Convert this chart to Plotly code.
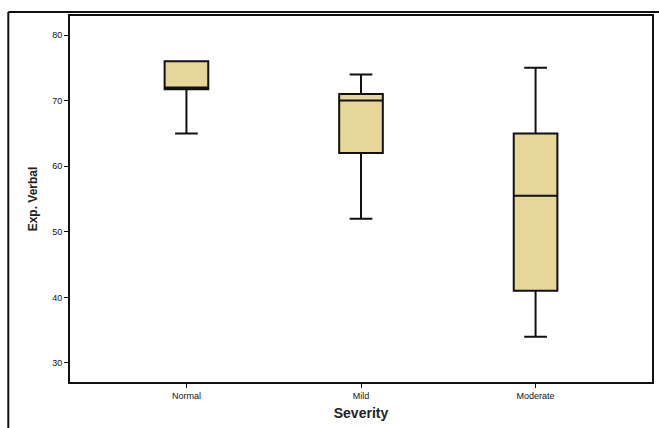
import plotly.graph_objects as go

categories = ["Normal", "Mild", "Moderate"]
lower_fence = [65, 52, 34]
q1_vals = [71.75, 62, 41]
medians = [72, 70, 55.5]
q3_vals = [76, 71, 65]
upper_fence = [76, 74, 75]
y_ticks = [30, 40, 50, 60, 70, 80]

fig = go.Figure()
fig.add_trace(go.Box(
    x=categories,
    q1=q1_vals,
    median=medians,
    q3=q3_vals,
    lowerfence=lower_fence,
    upperfence=upper_fence,
    width=0.25,
    whiskerwidth=0.52,
    fillcolor="#E6D69A",
    line=dict(color="#111111", width=2),
    boxpoints=False,
    showlegend=False,
    hoverinfo="skip",
))

fig.update_layout(
    width=659, height=428,
    margin=dict(l=70, r=5, t=16, b=46),
    paper_bgcolor="white", plot_bgcolor="white",
    font=dict(family="Arial, Liberation Sans, sans-serif", color="#111111"),
    shapes=[
        dict(type="line", xref="paper", yref="paper", x0=-0.106, x1=-0.106, y0=-0.2, y1=1.011,
             line=dict(color="#111111", width=2)),
        dict(type="line", xref="paper", yref="paper", x0=-0.106, x1=1.1, y0=1.011, y1=1.011,
             line=dict(color="#111111", width=2)),
    ],
)
fig.update_xaxes(
    type="category", categoryorder="array", categoryarray=categories,
    range=[-0.667, 2.667],
    showline=True, linecolor="#111111", linewidth=2, mirror=True,
    ticks="outside", ticklen=4, tickcolor="#111111", tickwidth=1,
    tickfont=dict(size=9, color="#111111"),
    showgrid=False, zeroline=False,
    title=dict(text="<b>Severity</b>", font=dict(size=14, color="#222222"), standoff=8),
)
fig.update_yaxes(
    range=[27.1, 82.9],
    tickvals=y_ticks,
    showline=True, linecolor="#111111", linewidth=2, mirror=True,
    ticks="outside", ticklen=4, tickcolor="#111111", tickwidth=1,
    tickfont=dict(size=9, color="#111111"),
    showgrid=False, zeroline=False,
    title=dict(text="<b>Exp. Verbal</b>", font=dict(size=12, color="#222222"), standoff=12),
)

fig.write_html("out.html", config={"displayModeBar": False},
               post_script="document.body.style.margin='0';")
